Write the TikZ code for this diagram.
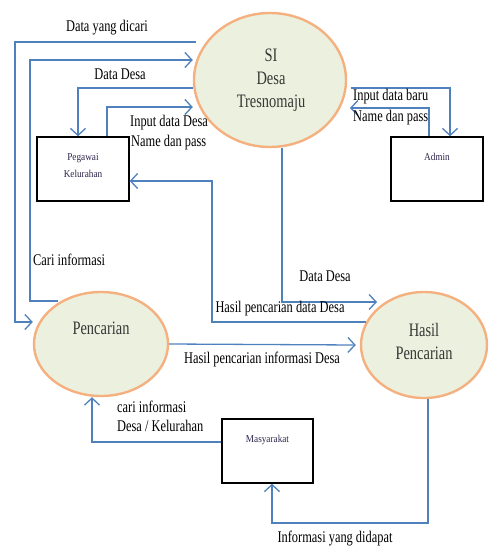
\documentclass[tikz,border=0pt]{standalone}
\usepackage{fontspec}
\setmainfont{Liberation Serif}
\newfontfamily\labfont[FakeStretch=0.76]{Liberation Serif}
\newfontfamily\procfont[FakeStretch=0.76]{Liberation Serif}
\newfontfamily\boxfont[FakeStretch=0.88]{Liberation Serif}
\usetikzlibrary{shapes.geometric,arrows.meta}
\definecolor{flowc}{RGB}{79,129,189}
\definecolor{procfill}{RGB}{235,241,222}
\definecolor{procline}{RGB}{245,176,128}
\definecolor{proctext}{RGB}{55,55,55}
\definecolor{boxtext}{RGB}{45,35,75}
\begin{document}
\begin{tikzpicture}[x=1pt,y=-1pt,
  flow/.style={draw=flowc, line width=1.3pt, -{Straight Barb[length=7pt,width=15pt,line width=1.3pt]}},
  proc/.style={ellipse, draw=procline, line width=2.4pt, fill=procfill, inner sep=0pt},
  proctxt/.style={font=\procfont\fontsize{19}{23}\selectfont, text=proctext, align=center, inner sep=0pt},
  stor/.style={draw=black, line width=1.4pt, minimum width=92pt, minimum height=64pt, inner sep=0pt},
  stortxt/.style={font=\boxfont\fontsize{10.5}{17}\selectfont, text=boxtext, align=center, inner sep=0pt},
  lbl/.style={font=\labfont\fontsize{16.3}{20}\selectfont, inner sep=0pt, align=left}]
\useasboundingbox (0,0) rectangle (488,546);

% processes
\node[proc, minimum width=152pt, minimum height=134pt] (si) at (270,80) {};
\node[proctxt] (sitext) at (271,80) {SI\\Desa\\Tresnomaju};
\node[proc, minimum width=134pt, minimum height=104pt] (pen) at (101,344) {};
\node[proctxt] (pentext) at (101,328) {Pencarian};
\node[proc, minimum width=126pt, minimum height=106pt] (hp) at (424,345) {};
\node[proctxt] (hptext) at (424,341) {Hasil\\Pencarian};

% external entities
\node[stor] (pk) at (83,169) {};
\node[stortxt] (pktext) at (83,166) {Pegawai\\Kelurahan};
\node[stor] (ad) at (437,169) {};
\node[stortxt] (adtext) at (437,157) {Admin};
\node[stor, minimum width=91pt] (my) at (267.5,451) {};
\node[stortxt] (mytext) at (267.5,440) {Masyarakat};

% bend points
\coordinate (a1) at (15,42);
\coordinate (a2) at (15,322);
\coordinate (b0) at (58,301);
\coordinate (b1) at (30,301);
\coordinate (b2) at (30,60);
\coordinate (c1) at (78,88);
\coordinate (d1) at (107,107);
\coordinate (e1) at (450,88);
\coordinate (f1) at (429,108);
\coordinate (f2) at (350,108);
\coordinate (g1) at (212,322);
\coordinate (g2) at (212,181);
\coordinate (h1) at (282,302);
\coordinate (h2) at (377,302);
\coordinate (i1) at (92,442);
\coordinate (j1) at (428,523);
\coordinate (j2) at (272,523);

% flows
\draw[flow] ([xshift=3pt]si.west |- a1) -- (a1) -- (a2) -- (pen.west |- a2);
\draw[flow] (b0) -- (b1) -- (b2) -- (si.west |- b2);
\draw[flow] (si.west |- c1) -- (c1) -- (c1 |- pk.north);
\draw[flow] (pk.north -| d1) -- (d1) -- (si.west |- d1);
\draw[flow] ([xshift=4pt]si.east |- e1) -- (e1) -- (e1 |- ad.north);
\draw[flow] (ad.north -| f1) -- (f1) -- (f2);
\draw[flow] ([xshift=6pt]hp.west |- g1) -- (g1) -- (g2) -- (pk.east |- g2);
\draw[flow] (si.south -| h1) -- (h1) -- (h2);
\draw[flow] (pen.east) -- ([xshift=-4pt]hp.west);
\draw[flow] (my.west |- i1) -- (i1) -- (i1 |- pen.south);
\draw[flow] (hp.south -| j1) -- (j1) -- (j2) -- (j2 |- my.south);

% labels
\node[lbl] (l1) at (107,28) {Data yang dicari};
\node[lbl] (l2) at (120,74) {Data Desa};
\node[lbl, anchor=west] (l3) at (130,123) {Input data Desa};
\node[lbl, anchor=west] (l4) at (131,143) {Name dan pass};
\node[lbl, anchor=west] (l5) at (353,97) {Input data baru};
\node[lbl, anchor=west] (l6) at (353,118) {Name dan pass};
\node[lbl, anchor=west] (l7) at (33,260) {Cari informasi};
\node[lbl] (l8) at (325,276) {Data Desa};
\node[lbl] (l9) at (280,309) {Hasil pencarian data Desa};
\node[lbl] (l10) at (262,359) {Hasil pencarian informasi Desa};
\node[lbl, anchor=west] (l11) at (117,407) {cari informasi};
\node[lbl, anchor=west] (l12) at (117,426) {Desa / Kelurahan};
\node[lbl] (l13) at (335,539) {Informasi yang didapat};
\end{tikzpicture}
\end{document}
